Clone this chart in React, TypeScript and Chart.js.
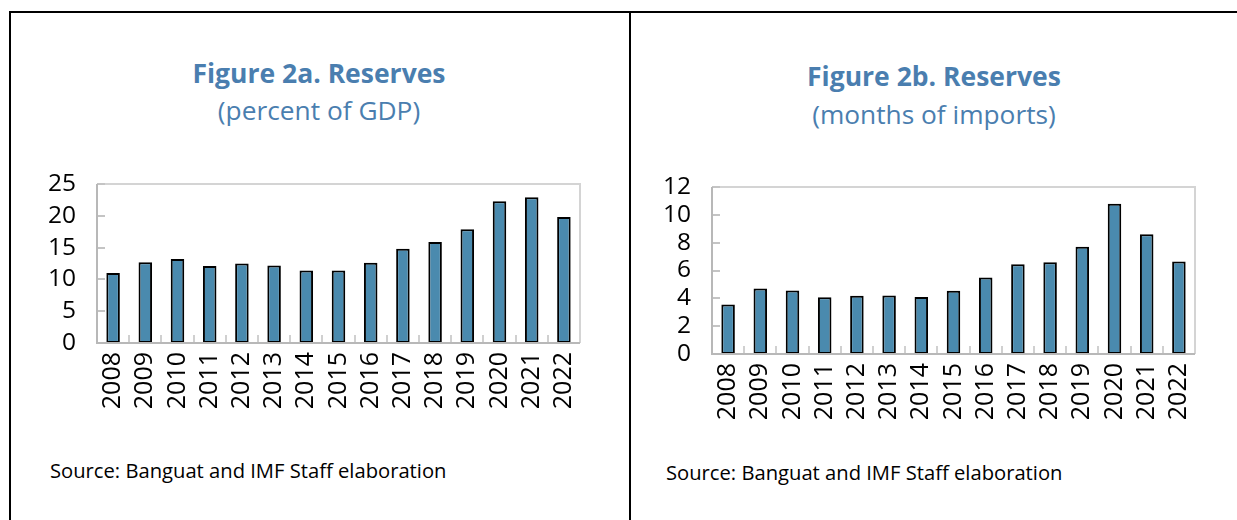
import React, { useEffect, useRef } from "react";
import { Chart, registerables } from "chart.js";

Chart.register(...registerables);

const years = ["2008", "2009", "2010", "2011", "2012", "2013", "2014", "2015", "2016", "2017", "2018", "2019", "2020", "2021", "2022"];
const reservesPctGdp = [11.0, 12.7, 13.2, 12.1, 12.5, 12.2, 11.4, 11.4, 12.6, 14.8, 15.9, 17.9, 22.3, 22.9, 19.8];
const reservesMonthsImports = [3.55, 4.7, 4.57, 4.08, 4.18, 4.2, 4.1, 4.54, 5.5, 6.45, 6.6, 7.7, 10.8, 8.6, 6.64];
const gdpAxisMax = 25;
const gdpAxisStep = 5;
const monthsAxisMax = 12;
const monthsAxisStep = 2;

const FONT = "'Open Sans', 'Noto Sans', sans-serif";
const TITLE_COLOR = "#4a7eaf";
const BAR_COLOR = "#4a8aae";

const framePlugin = {
  id: "excelFrame",
  beforeDatasetsDraw(chart: any) {
    const { ctx, chartArea } = chart;
    const { left, right, top, bottom } = chartArea;
    ctx.save();
    ctx.strokeStyle = "#d4d4d4";
    ctx.lineWidth = 2;
    ctx.beginPath();
    ctx.moveTo(left, top);
    ctx.lineTo(right, top);
    ctx.lineTo(right, bottom);
    ctx.stroke();
    ctx.restore();
  },
  afterDatasetsDraw(chart: any) {
    const { ctx, chartArea, scales } = chart;
    const { left, right, top, bottom } = chartArea;
    const x = scales.x;
    const y = scales.y;
    ctx.save();
    ctx.strokeStyle = "#c4c4c4";
    ctx.lineWidth = 2;
    ctx.beginPath();
    y.ticks.forEach((t: any) => {
      const py = Math.round(y.getPixelForValue(t.value));
      ctx.moveTo(left, py);
      ctx.lineTo(left + 8, py);
    });
    ctx.stroke();
    ctx.beginPath();
    ctx.strokeStyle = "#d0d0d0";
    const n = chart.data.labels.length;
    for (let i = 1; i < n; i++) {
      const px = Math.round((x.getPixelForValue(i - 1) + x.getPixelForValue(i)) / 2);
      ctx.moveTo(px, bottom);
      ctx.lineTo(px, bottom - 8);
    }
    ctx.stroke();
    ctx.strokeStyle = "#b8b8b8";
    ctx.beginPath();
    ctx.moveTo(left, top);
    ctx.lineTo(left, bottom);
    ctx.lineTo(right, bottom);
    ctx.stroke();
    ctx.restore();
  },
};

type PanelProps = {
  values: number[];
  max: number;
  step: number;
  width: number;
  height: number;
  padTop: number;
  padRight: number;
  yWidth: number;
  xHeight: number;
};

function BarPanel(p: PanelProps) {
  const ref = useRef<HTMLCanvasElement | null>(null);
  useEffect(() => {
    if (!ref.current) return;
    const chart = new Chart(ref.current, {
      type: "bar",
      data: {
        labels: years,
        datasets: [
          {
            data: p.values,
            backgroundColor: BAR_COLOR,
            borderColor: "#000000",
            borderWidth: 2,
            borderSkipped: false,
            barPercentage: 0.42,
            categoryPercentage: 1,
          },
        ],
      },
      options: {
        responsive: false,
        animation: false,
        layout: { padding: { top: p.padTop, right: p.padRight, left: 0, bottom: 0 } },
        plugins: {
          legend: { display: false },
          tooltip: { enabled: false },
          title: { display: false },
        },
        scales: {
          x: {
            grid: { display: false, drawTicks: false },
            border: { display: false },
            ticks: {
              color: "#000000",
              font: { family: FONT, size: 25 },
              maxRotation: 90,
              minRotation: 90,
              padding: 9,
              autoSkip: false,
            },
            afterFit(scale: any) {
              scale.height = p.xHeight;
            },
          },
          y: {
            min: 0,
            max: p.max,
            grid: { display: false, drawTicks: false },
            border: { display: false },
            ticks: {
              stepSize: p.step,
              autoSkip: false,
              color: "#000000",
              font: { family: FONT, size: 24.5 },
              padding: 21,
            },
            afterFit(scale: any) {
              scale.width = p.yWidth;
            },
          },
        },
      },
      plugins: [framePlugin],
    });
    return () => chart.destroy();
  }, []);
  return <canvas ref={ref} width={p.width} height={p.height} style={{ width: p.width, height: p.height, display: "block" }} />;
}

const titleStyle: React.CSSProperties = {
  position: "absolute",
  width: 500,
  textAlign: "center",
  color: TITLE_COLOR,
  fontFamily: FONT,
  whiteSpace: "nowrap",
};

const sourceStyle: React.CSSProperties = {
  position: "absolute",
  fontFamily: FONT,
  fontSize: 20.2,
  color: "#000",
  whiteSpace: "nowrap",
  lineHeight: "26px",
};

export default function App() {
  return (
    <div style={{ position: "fixed", left: 0, top: 0, width: 1237, height: 520, background: "#ffffff", overflow: "hidden" }}>
      <div style={{ position: "absolute", left: 9, top: 11, width: 1228, height: 2, background: "#000" }} />
      <div style={{ position: "absolute", left: 9, top: 11, width: 2, height: 509, background: "#000" }} />
      <div style={{ position: "absolute", left: 629, top: 11, width: 2, height: 509, background: "#000" }} />

      <div style={{ ...titleStyle, left: 319 - 250, top: 73 - 19, fontSize: 26.5, fontWeight: 700, lineHeight: "38px" }}>Figure 2a. Reserves</div>
      <div style={{ ...titleStyle, left: 319 - 250, top: 110 - 18, fontSize: 26.3, fontWeight: 400, lineHeight: "36px" }}>(percent of GDP)</div>

      <div style={{ ...titleStyle, left: 934 - 250, top: 76 - 19, fontSize: 26.5, fontWeight: 700, lineHeight: "38px" }}>Figure 2b. Reserves</div>
      <div style={{ ...titleStyle, left: 934 - 250, top: 114 - 18, fontSize: 26.3, fontWeight: 400, lineHeight: "36px" }}>(months of imports)</div>

      <div style={{ position: "absolute", left: 11, top: 140 }}>
        <BarPanel values={reservesPctGdp} max={gdpAxisMax} step={gdpAxisStep} width={618} height={300} padTop={44} padRight={49} yWidth={86} xHeight={97} />
      </div>
      <div style={{ position: "absolute", left: 631, top: 140 }}>
        <BarPanel values={reservesMonthsImports} max={monthsAxisMax} step={monthsAxisStep} width={606} height={300} padTop={47} padRight={42} yWidth={81} xHeight={86} />
      </div>

      <div style={{ ...sourceStyle, left: 50, top: 457 }}>Source: Banguat and IMF Staff elaboration</div>
      <div style={{ ...sourceStyle, left: 666, top: 459 }}>Source: Banguat and IMF Staff elaboration</div>
    </div>
  );
}
